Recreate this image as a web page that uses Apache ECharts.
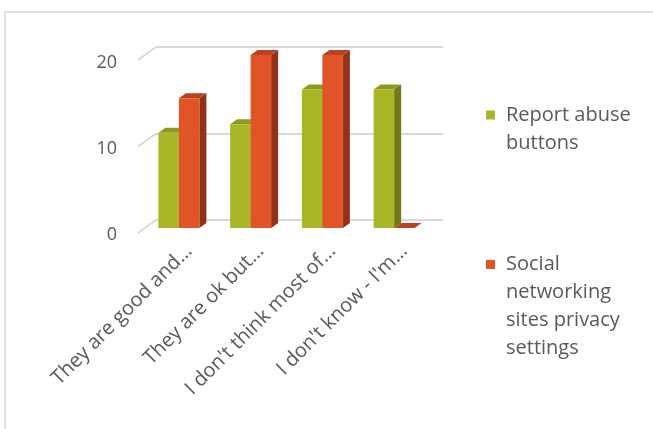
<!DOCTYPE html>
<html><head><meta charset="utf-8">
<script src="https://cdn.jsdelivr.net/npm/echarts@6/dist/echarts.min.js"></script>
<style>html,body{margin:0;padding:0;background:#fff}#c{width:653px;height:429px}</style>
</head><body><div id="c"></div>
<script>
// ---- data ----
const categories = ["They are good and…", "They are ok but…", "I don't think most of…", "I don't know - I'm…"];
const seriesNames = ["Report abuse buttons", "Social networking sites privacy settings"];
const reportAbuse = [11, 12, 16, 16];
const privacySettings = [15, 20, 20, 0];
const yTicks = [0, 10, 20];
const legendLines = {
  "Report abuse buttons": ["Report abuse", "buttons"],
  "Social networking sites privacy settings": ["Social", "networking", "sites privacy", "settings"]
};

// ---- style ----
const FONT = "'Open Sans', sans-serif";
const TXT = '#595959';
const GRIDC = '#d9d9d9';
const BAR_W = 20.5, DX = 7, DY = 5;      // bar depth
const FDX = 18, FDY = 13;                // floor depth
const greenFaces = { front: '#a9b726', top: '#8d9a1f', side: '#6f7a18' };
const orangeFaces = { front: '#e05427', top: '#b9431f', side: '#903217' };

function bar3D(leftSide, faces) {
  return function (params, api) {
    const c = api.value(0), v = api.value(1);
    const b = api.coord([c, 0]), t = api.coord([c, v]);
    const x0 = leftSide ? b[0] - BAR_W : b[0];
    const x1 = x0 + BAR_W, yt = t[1], yb = b[1];
    return { type: 'group', children: [
      { type: 'polygon', shape: { points: [[x1, yt], [x1 + DX, yt - DY], [x1 + DX, yb - DY], [x1, yb]] }, style: { fill: faces.side } },
      { type: 'polygon', shape: { points: [[x0, yt], [x0 + DX, yt - DY], [x1 + DX, yt - DY], [x1, yt]] }, style: { fill: faces.top } },
      { type: 'rect', shape: { x: x0, y: yt, width: BAR_W, height: yb - yt }, style: { fill: faces.front } }
    ]};
  };
}

const chart = echarts.init(document.getElementById('c'), null, { renderer: 'canvas' });
const hiddenX = (gi) => ({ type: 'category', gridIndex: gi, data: categories, show: false });
const valueAxis = (gi, extra) => Object.assign({ type: 'value', gridIndex: gi, min: 0, max: 20, interval: 10,
  axisLine: { show: false }, axisTick: { show: false }, axisLabel: { show: false }, splitLine: { show: false } }, extra || {});

const legendText = { fontFamily: FONT, fontSize: 20, lineHeight: 28, color: TXT,
  rich: { t: { fontFamily: FONT, fontSize: 20, lineHeight: 28, color: TXT, padding: [0, 0, 0, 6] } } };
// put the first text line level with the square: pad the block with blank lines above
const legendFmt = n => { const L = legendLines[n]; return '\n'.repeat(L.length - 1) + L.map(s => '{t|' + s + '}').join('\n'); };

chart.setOption({
  animation: false,
  backgroundColor: '#fff',
  graphic: [{ type: 'rect', shape: { x: 5, y: 12, width: 700, height: 500 }, style: { fill: 'none', stroke: GRIDC, lineWidth: 1.5 }, silent: true, z: -10 }],
  grid: [
    { left: 143, top: 55, width: 287, height: 173 },          // 0 bars plane
    { left: 156, top: 47, width: 287, height: 173 },          // 1 back wall (gridlines)
    { left: 138, top: 62.5, width: 287, height: 172.5 },      // 2 front plane (value labels)
    { left: 153, top: 55, width: 287, height: 173 }           // 3 category labels
  ],
  xAxis: [
    hiddenX(0), hiddenX(1), hiddenX(2),
    { type: 'category', gridIndex: 3, data: categories, axisLine: { show: false }, axisTick: { show: false },
      axisLabel: { interval: 0, rotate: 45, margin: 20, color: TXT, fontFamily: FONT, fontSize: 20 } }
  ],
  yAxis: [
    valueAxis(0),
    valueAxis(1, { splitLine: { show: true, lineStyle: { color: GRIDC, width: 2 } } }),
    valueAxis(2, { axisLabel: { show: true, margin: 21, color: TXT, fontFamily: FONT, fontSize: 18 } }),
    valueAxis(3)
  ],
  legend: [
    { orient: 'vertical', left: 486, top: 73, padding: 0, itemWidth: 9, itemHeight: 9, icon: 'rect',
      data: [seriesNames[0]], formatter: legendFmt, textStyle: legendText, selectedMode: false },
    { orient: 'vertical', left: 486, top: 166.5, padding: 0, itemWidth: 9, itemHeight: 9, icon: 'rect',
      data: [seriesNames[1]], formatter: legendFmt, textStyle: legendText, selectedMode: false }
  ],
  series: [
    { type: 'custom', name: 'floor', xAxisIndex: 1, yAxisIndex: 1, data: yTicks.map(v => [0, v]),
      renderItem: (params, api) => {
        const p = api.coord([0, api.value(1)]), x = params.coordSys.x;
        return { type: 'line', shape: { x1: x - FDX, y1: p[1] + FDY, x2: x, y2: p[1] }, style: { stroke: GRIDC, lineWidth: 2 } };
      }, silent: true },
    { type: 'custom', name: seriesNames[0], xAxisIndex: 0, yAxisIndex: 0, itemStyle: { color: greenFaces.front },
      data: reportAbuse.map((v, i) => [i, v]), encode: { x: 0, y: 1 }, renderItem: bar3D(true, greenFaces) },
    { type: 'custom', name: seriesNames[1], xAxisIndex: 0, yAxisIndex: 0, itemStyle: { color: orangeFaces.front },
      data: privacySettings.map((v, i) => [i, v]), encode: { x: 0, y: 1 }, renderItem: bar3D(false, orangeFaces) }
  ]
});
</script></body></html>
